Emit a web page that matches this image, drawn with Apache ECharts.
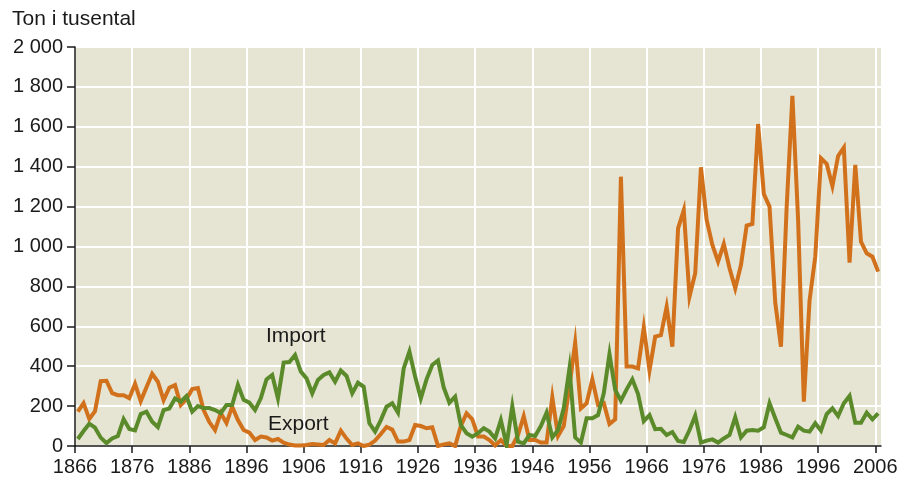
<!DOCTYPE html>
<html>
<head>
<meta charset="utf-8">
<script src="https://cdn.jsdelivr.net/npm/echarts@6/dist/echarts.min.js"></script>
<style>
  html, body { margin: 0; padding: 0; background: #fff; }
  #chart { width: 905px; height: 481px; }
</style>
</head>
<body>
<div id="chart"></div>
<script>
var firstYear = 1866;
var lastYear = 2006;

// tonn i tusental, ett tal per år 1866-2006
var importValues = [
  35, 75, 112, 92, 42, 15, 38, 50, 135, 85,
  78, 160, 172, 122, 95, 180, 188, 238, 222, 250,
  172, 200, 190, 190, 180, 165, 205, 205, 306, 231,
  217, 180, 239, 334, 356, 239, 418, 421, 456, 373,
  339, 264, 331, 356, 369, 322, 378, 351, 264, 317,
  297, 114, 72, 130, 197, 214, 167, 389, 473, 348,
  239, 334, 406, 428, 294, 217, 247, 105, 64, 47,
  64, 89, 72, 38, 130, 5, 200, 22, 13, 55,
  50, 100, 167, 43, 80, 189, 389, 43, 17, 139,
  139, 155, 264, 461, 281, 227, 284, 334, 260, 125,
  155, 84, 86, 55, 70, 25, 20, 80, 152, 17,
  27, 33, 17, 38, 55, 144, 43, 77, 80, 77,
  94, 214, 139, 67, 55, 43, 97, 77, 72, 114,
  77, 160, 189, 150, 214, 251, 117, 117, 167, 134,
  164
];

var exportValues = [
  172, 215, 135, 175, 325, 327, 265, 255, 255, 240,
  312, 225, 295, 362, 322, 230, 292, 305, 205, 235,
  285, 290, 180, 120, 80, 165, 115, 197, 130, 80,
  67, 30, 47, 43, 27, 35, 17, 7, 3, 3,
  5, 10, 8, 5, 30, 13, 77, 37, 5, 13,
  0, 7, 27, 60, 95, 82, 22, 22, 30, 105,
  100, 89, 94, 0, 8, 13, 0, 100, 164, 134,
  47, 47, 30, 3, 30, 0, 0, 55, 150, 30,
  30, 17, 17, 244, 50, 100, 300, 518, 189, 214,
  334, 206, 215, 110, 134, 1350, 398, 398, 389, 595,
  378, 548, 556, 698, 498, 1091, 1183, 749, 866, 1397,
  1133, 1008, 924, 1013, 891, 790, 907, 1105, 1113, 1614,
  1263, 1200, 719, 498, 1200, 1755, 1133, 222, 729, 949,
  1442, 1414, 1303, 1454, 1496, 919, 1409, 1024, 966, 949,
  874
];

var yTicks = [0, 200, 400, 600, 800, 1000, 1200, 1400, 1600, 1800, 2000];

var years = [];
for (var y = firstYear; y <= lastYear; y++) years.push(String(y));
// tick axis runs one year further so the last band closes the plot
var tickYears = years.concat([String(lastYear + 1)]);

function spaced(v) {
  var s = String(v);
  return s.length > 3 ? s.slice(0, s.length - 3) + ' ' + s.slice(-3) : s;
}

var font = 'Liberation Sans, Arial, sans-serif';
var ink = '#1a1a1a';

var option = {
  animation: false,
  backgroundColor: '#ffffff',
  textStyle: { fontFamily: font },
  grid: {
    left: 75, right: 24, top: 47, bottom: 35,
    show: true, backgroundColor: '#e6e5d4', borderWidth: 0
  },
  graphic: [
    { type: 'text', left: 12, top: 9, z: 100,
      style: { text: 'Ton i tusental', font: '21px ' + font, fill: ink } },
    { type: 'text', left: 266, top: 326, z: 100,
      style: { text: 'Import', font: '21px ' + font, fill: ink } },
    { type: 'text', left: 268, top: 414, z: 100,
      style: { text: 'Export', font: '21px ' + font, fill: ink } }
  ],
  xAxis: [
    {
      type: 'category',
      data: tickYears,
      boundaryGap: false,
      axisLine: { lineStyle: { color: ink, width: 1.5 } },
      axisTick: { interval: 9, length: 7, lineStyle: { color: ink, width: 1.5 } },
      axisLabel: { interval: 9, margin: 11, fontSize: 20, color: ink, fontFamily: font },
      splitLine: { show: true, interval: 9, lineStyle: { color: '#ffffff', width: 2 } }
    },
    {
      type: 'category',
      data: years,
      boundaryGap: true,
      show: false
    }
  ],
  yAxis: {
    type: 'value',
    min: yTicks[0],
    max: yTicks[yTicks.length - 1],
    interval: 200,
    axisLine: { show: true, lineStyle: { color: ink, width: 1.5 } },
    axisTick: { show: true, length: 8, lineStyle: { color: ink, width: 1.5 } },
    axisLabel: { margin: 12, fontSize: 20, color: ink, fontFamily: font, formatter: spaced },
    splitLine: { show: true, lineStyle: { color: '#ffffff', width: 2 } }
  },
  series: [
    {
      name: 'Export',
      type: 'line',
      xAxisIndex: 1,
      data: exportValues,
      symbol: 'none',
      lineStyle: { color: '#d2711b', width: 4, join: 'miter' }
    },
    {
      name: 'Import',
      type: 'line',
      xAxisIndex: 1,
      data: importValues,
      symbol: 'none',
      lineStyle: { color: '#5a8a2a', width: 4, join: 'miter' }
    }
  ]
};

var myChart = echarts.init(document.getElementById('chart'));
myChart.setOption(option);
</script>
</body>
</html>
